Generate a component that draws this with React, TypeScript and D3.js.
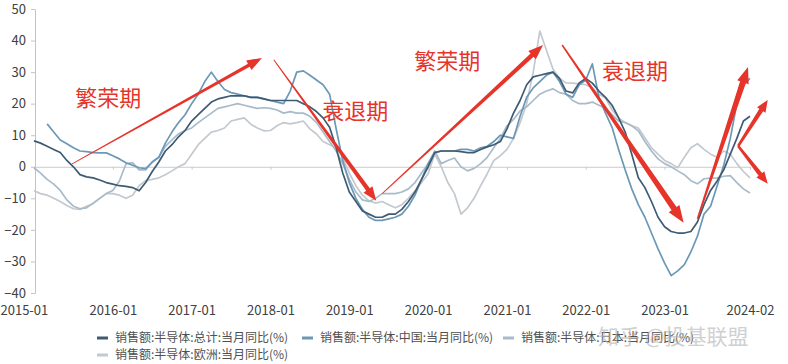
import { useEffect, useRef } from 'react';
import * as d3 from 'd3';

const xTickLabels = ['2015-01', '2016-01', '2017-01', '2018-01', '2019-01', '2020-01', '2021-01', '2022-01', '2023-01', '2024-02'];
const yTickValues = [50, 40, 30, 20, 10, 0, -10, -20, -30, -40];

// monthly values, 2015-01 .. 2024-02
const total = [
  8.2, 7.5, 6.5, 5.5, 4.5, 2, 0, -2.5, -3.2, -3.5,
  -4.2, -5, -5.5, -6, -6.2, -6.6, -7.6, -5, -1.5, 1.5,
  5, 7, 9.5, 11.5, 14.5, 16.5, 18.5, 20.5, 21.5, 22,
  22.5, 22.5, 22.5, 22, 22, 21.5, 21, 21, 21, 21,
  21, 20, 19, 17.5, 15.5, 12.5, 6, -2, -8, -11,
  -14, -15, -16, -16, -15, -15, -13.5, -11, -8, -4,
  0, 4.5, 5, 5, 5, 4.8, 4.5, 4.5, 5.5, 6.3,
  7, 8, 12, 17, 21, 26, 28.5, 29, 29.5, 30,
  28, 24, 23.4, 26.6, 28, 26.5, 24, 22, 19.5, 15.5,
  11, 4, -3.5, -6.6, -11, -16, -19, -20.5, -21, -21,
  -20.5, -17.5, -12, -7.5, -4.5, -1, 4, 9, 14.5, 16,
];

const china = [
  null, null, 13.6, 11, 8.5, 7.3, 6, 5, 4.8, 4.5,
  4.4, 4.4, 3.5, 2.5, 1.3, 0.5, -0.3, -0.6, 1.5, 3,
  7.5, 11, 14, 16.5, 20, 23, 27, 30, 27, 24.5,
  23.5, 23, 22.5, 22, 22, 21.5, 21, 20.5, 20, 24,
  30, 30.4, 29, 27.5, 26, 23, 12, 2, -5, -10,
  -13.5, -16, -17, -17, -16.5, -16, -15, -12.5, -9, -4,
  1, 4.5, 5, 5, 5, 5.5, 5.5, 5, 6, 6.5,
  8, 10, 9.5, 9, 16, 22, 25, 27, 29, 30,
  27, 23, 22, 26, 27.5, 32.6, 22, 17, 12.5, 5.5,
  -1, -7, -12, -16, -21, -26, -30.5, -34.5, -33, -31,
  -27, -22, -15, -12.5, -6, 0.5, 9, 20, 26, 28,
];

const japan = [
  -0.3, -2, -4, -5.5, -7.5, -10.5, -12.5, -13.3, -13, -11.5,
  -10, -8.5, -7.5, -4.5, 0.9, 1.3, -1, -1, 1.5, 3,
  6.5, 8.5, 10.4, 11.5, 12.3, 14, 15.5, 17, 18.5, 19,
  19.5, 20, 19.5, 19, 18.5, 18.7, 18.5, 18, 17, 17.5,
  17, 17, 16, 14, 11, 8, 5, 1, -4, -8,
  -10.5, -11, -10, -8.5, -8.5, -8.5, -8, -7, -5, -2,
  1, 5, 1, 2, 2.8, 0, -1.3, -0.5, 1, 3,
  6, 9, 13, 15, 17.7, 19, 21, 23, 24, 24.7,
  23.5, 23, 21, 20, 20, 20.5, 19.5, 18.5, 16.5, 14.5,
  14, 13, 11.4, 8, 5, 2.5, 1, 0, -1.3, -2.5,
  -4.4, -5.4, -3.8, -3.6, -3.5, -3, -2.8, -5, -7, -8.3,
];

const europe = [
  -7.6, -8.5, -9, -10, -11, -12.3, -13.3, -13.5, -12.5, -11.7,
  -10, -8.5, -8.5, -9, -10, -9, -6, -4.4, -4, -3.5,
  -2.5, -1.3, 0, 1, 4, 7, 9, 11, 11.5, 12.3,
  14.5, 15, 15.5, 13.5, 12.3, 11.4, 11.5, 13, 14, 13.6,
  14, 14.5, 12, 10.4, 8, 7, 6, 3, -2, -6,
  -9, -10.8, -11.5, -11, -12, -13, -12, -10, -7.6, -5,
  -2.2, 4, 0, -5, -8.5, -15, -13, -10, -6, -2.2,
  2, 3.5, 5.5, 9, 14, 20, 30, 43, 37, 31,
  28, 26.6, 26.5, 26.3, 26, 25, 23, 21.8, 18, 15.5,
  14, 13, 12.3, 9.2, 6, 4, 2, 1, -0.3, 3,
  6, 7.3, 5.5, 4, 3, 5, 4, 1, -1.5, -3.5,
];

const seriesNames = [
  '销售额:半导体:总计:当月同比(%)',
  '销售额:半导体:中国:当月同比(%)',
  '销售额:半导体:日本:当月同比(%)',
  '销售额:半导体:欧洲:当月同比(%)',
];

// annotations, in [month index, value]
const phaseTexts = ['繁荣期', '衰退期', '繁荣期', '衰退期'];
const phaseAt = [[11.3, 21.8], [48.9, 17.7], [62.9, 33.5], [91.5, 30.4]];
const arrowFrom = [[5.8, 0.9], [36.5, 33.9], [53, -8.5], [80.4, 38.6], [101, -16.5], [107.2, 6.6], [107.2, 6.6]];
const arrowTo = [[34.7, 34.5], [52.1, -10.8], [77.5, 38.6], [98.9, -17.7], [108.7, 31.6], [111.7, 21.2], [111.7, -5.4]];

const W = 788;
const H = 364;
const colors = ['#3f5b74', '#6c98b7', '#a9bbc9', '#c3c9ce'];
const red = '#e6342a';
const font = '"Noto Sans CJK SC", "Noto Sans", sans-serif';

const monthOf = (s: string) => {
  const [yy, mm] = s.split('-').map(Number);
  return (yy - 2015) * 12 + mm - 1;
};

// tapered arrow: thin tail, thicker shaft near the head
const arrowPath = (p0: number[], p1: number[], w0: number, w1: number, hl: number, hw: number) => {
  const dx = p1[0] - p0[0];
  const dy = p1[1] - p0[1];
  const len = Math.hypot(dx, dy);
  const ux = dx / len, uy = dy / len;
  const nx = -uy, ny = ux;
  const bx = p1[0] - ux * hl, by = p1[1] - uy * hl;
  const pts = [
    [p0[0] + nx * w0 / 2, p0[1] + ny * w0 / 2],
    [bx + nx * w1 / 2, by + ny * w1 / 2],
    [bx + nx * hw / 2, by + ny * hw / 2],
    [p1[0], p1[1]],
    [bx - nx * hw / 2, by - ny * hw / 2],
    [bx - nx * w1 / 2, by - ny * w1 / 2],
    [p0[0] - nx * w0 / 2, p0[1] - ny * w0 / 2],
  ];
  return 'M' + pts.map((p) => p.join(',')).join('L') + 'Z';
};

const App = () => {
  const svgRef = useRef<SVGSVGElement>(null);

  useEffect(() => {
    document.body.style.margin = '0';
    const svg = d3.select(svgRef.current);
    svg.selectAll('*').remove();

    const x = d3.scaleLinear().domain([0, monthOf('2024-02')]).range([34, 750]);
    const y = d3.scaleLinear().domain([-40, 50]).range([293, 9]);

    // y axis
    const ya = svg
      .append('g')
      .attr('transform', 'translate(35,0)')
      .call(d3.axisLeft(y).tickValues(yTickValues).tickSize(4).tickSizeOuter(0).tickPadding(5));
    ya.select('.domain').attr('stroke', '#c4c4c4');
    ya.selectAll('.tick line').attr('stroke', '#c4c4c4');
    ya.selectAll('text').attr('fill', '#404040').style('font-size', '13px').style('font-family', font);

    // zero line with year ticks
    const za = svg
      .append('g')
      .attr('transform', `translate(0,${y(0)})`)
      .call(
        d3.axisBottom(x)
          .tickValues(xTickLabels.map(monthOf))
          .tickSize(3)
          .tickSizeOuter(0)
          .tickFormat(() => '')
      );
    za.select('.domain').attr('stroke', '#cccccc');
    za.selectAll('.tick line').attr('stroke', '#cccccc');

    // x labels at the bottom
    const xa = svg
      .append('g')
      .attr('transform', 'translate(0,304)')
      .call(
        d3.axisBottom(x)
          .tickValues(xTickLabels.map(monthOf))
          .tickSize(0)
          .tickPadding(2)
          .tickFormat((d, i) => xTickLabels[i])
      );
    xa.select('.domain').remove();
    xa.selectAll('text').attr('fill', '#404040').style('font-size', '13px').style('font-family', font);
    xa.select('.tick text').attr('text-anchor', 'start').attr('x', -x(0));

    // lines
    const line = d3
      .line<number | null>()
      .defined((d) => d != null)
      .x((d, i) => x(i))
      .y((d) => y(d as number));

    const series = [total, china, japan, europe];
    [3, 2, 1, 0].forEach((k) => {
      svg
        .append('path')
        .datum(series[k])
        .attr('fill', 'none')
        .attr('stroke', colors[k])
        .attr('stroke-width', 1.7)
        .attr('stroke-linejoin', 'round')
        .attr('d', line);
    });

    // arrows
    const widths = [
      [0.8, 3.5, 15, 11],
      [1, 4.5, 14, 11],
      [0.8, 4.5, 15, 11],
      [1.5, 6, 17, 13],
      [1.5, 6, 16, 12],
      [2.5, 4.5, 12, 10],
      [2.5, 4.5, 12, 10],
    ];
    arrowFrom.forEach((f, i) => {
      const t = arrowTo[i];
      const [w0, w1, hl, hw] = widths[i];
      svg
        .append('path')
        .attr('d', arrowPath([x(f[0]), y(f[1])], [x(t[0]), y(t[1])], w0, w1, hl, hw))
        .attr('fill', red);
    });

    // phase labels
    phaseTexts.forEach((t, i) => {
      svg
        .append('text')
        .attr('x', x(phaseAt[i][0]))
        .attr('y', y(phaseAt[i][1]))
        .attr('dy', '0.36em')
        .attr('text-anchor', 'middle')
        .attr('fill', red)
        .style('font-size', '22px')
        .style('font-family', font)
        .text(t);
    });

    // legend
    const legendPos = [[97, 338], [302, 338], [503, 338], [97, 355]];
    seriesNames.forEach((name, i) => {
      const [lx, ly] = legendPos[i];
      svg
        .append('line')
        .attr('x1', lx)
        .attr('x2', lx + 11)
        .attr('y1', ly)
        .attr('y2', ly)
        .attr('stroke', colors[i])
        .attr('stroke-width', 3);
      svg
        .append('text')
        .attr('x', lx + 18)
        .attr('y', ly)
        .attr('dy', '0.35em')
        .attr('fill', '#505050')
        .style('font-size', '12px')
        .style('font-family', font)
        .text(name);
    });

    // watermark
    svg
      .append('text')
      .attr('x', 598)
      .attr('y', 344)
      .attr('fill', '#b8b8b8')
      .attr('opacity', 0.65)
      .style('font-size', '21px')
      .style('font-family', font)
      .text('知乎 @投基联盟');
  }, []);

  return <svg ref={svgRef} width={W} height={H} style={{ display: 'block', background: '#fff' }} />;
};

export default App;
